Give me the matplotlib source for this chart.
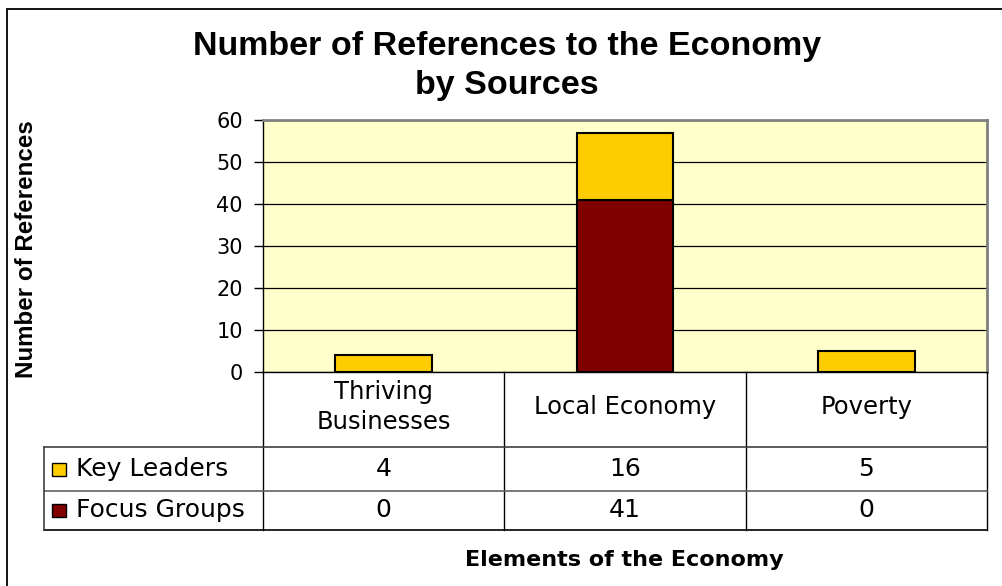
import numpy as np
import matplotlib
matplotlib.use('Agg')
import matplotlib.pyplot as plt
from matplotlib.lines import Line2D
from matplotlib.patches import Rectangle
from matplotlib.transforms import blended_transform_factory

categories = ['Thriving\nBusinesses', 'Local Economy', 'Poverty']
series_names = ['Key Leaders', 'Focus Groups']
key_leaders = [4, 16, 5]
focus_groups = [0, 41, 0]
y_ticks = [0, 10, 20, 30, 40, 50, 60]

KEY_COLOR = '#FFCC00'
FOCUS_COLOR = '#800000'

W, H = 1002, 586


def fx(px):
    return px / W


def fy(py):
    return 1 - py / H


fig = plt.figure(figsize=(W / 100, H / 100), dpi=100)
fig.patch.set_facecolor('white')

# outer chart frame (right/bottom edges fall off the picture)
fig.patches.append(Rectangle((fx(7), fy(620)), fx(1030) - fx(7), fy(9) - fy(620),
                             transform=fig.transFigure, fill=False,
                             edgecolor='black', linewidth=1.3))

ax = fig.add_axes([fx(263), fy(372), fx(987) - fx(263), fy(120) - fy(372)])
ax.set_facecolor('#FFFFCC')

x = np.arange(len(categories))
ax.bar(x, focus_groups, width=0.4, color=FOCUS_COLOR, edgecolor='black', linewidth=1.5, zorder=3)
ax.bar(x, key_leaders, width=0.4, bottom=focus_groups, color=KEY_COLOR,
       edgecolor='black', linewidth=1.5, zorder=3)

ax.set_xlim(-0.5, len(categories) - 0.5)
ax.set_ylim(0, 60)
ax.set_yticks(y_ticks)
ax.set_xticks([])
ax.yaxis.grid(True, color='black', linewidth=0.9, zorder=0)
ax.set_axisbelow(True)
ax.tick_params(axis='y', length=6.5, width=1, pad=8, labelsize=15, colors='black')
for lab in ax.get_yticklabels():
    lab.set_family('DejaVu Sans')

for side in ['top', 'right']:
    ax.spines[side].set_color('#808080')
    ax.spines[side].set_linewidth(2)
for side in ['left', 'bottom']:
    ax.spines[side].set_color('black')
    ax.spines[side].set_linewidth(1)

# data table under the plot: x in data units, y in figure units
tr = blended_transform_factory(ax.transData, fig.transFigure)
col_edges = np.arange(len(categories) + 1) - 0.5

for ce in col_edges:
    fig.add_artist(Line2D([ce, ce], [fy(372), fy(530)], transform=tr, color='black', linewidth=1))

for py, col in [(447, '#404040'), (491, '#606060'), (530, 'black')]:
    fig.add_artist(Line2D([fx(44), fx(987)], [fy(py), fy(py)], transform=fig.transFigure,
                          color=col, linewidth=1.2))
fig.add_artist(Line2D([fx(44), fx(44)], [fy(447), fy(530)], transform=fig.transFigure,
                      color='#404040', linewidth=1.2))

for xi, cat in zip(x, categories):
    fig.text(xi, fy(407), cat, transform=tr, ha='center', va='center', fontsize=17.5,
             family='DejaVu Sans', linespacing=1.3)

rows = [key_leaders, focus_groups]
row_centers = [469, 510]
colors = [KEY_COLOR, FOCUS_COLOR]
for name, vals, rc, col in zip(series_names, rows, row_centers, colors):
    fig.patches.append(Rectangle((fx(52), fy(rc + 7)), fx(66) - fx(52), fy(rc - 6) - fy(rc + 7),
                                 transform=fig.transFigure, facecolor=col,
                                 edgecolor='black', linewidth=1))
    fig.text(fx(76), fy(rc), name, ha='left', va='center', fontsize=18, family='DejaVu Sans')
    for xi, v in zip(x, vals):
        fig.text(xi, fy(rc), str(v), transform=tr, ha='center', va='center',
                 fontsize=18, family='DejaVu Sans')

fig.text(fx(507), fy(66), 'Number of References to the Economy\nby Sources', ha='center',
         va='center', fontsize=24.5, fontweight='bold', family=['Liberation Sans', 'DejaVu Sans'],
         linespacing=1.35)
fig.text(fx(27), fy(249), 'Number of References', rotation=90, ha='center', va='center',
         fontsize=17.4, fontweight='bold', family=['Liberation Sans', 'DejaVu Sans'])
fig.text(fx(624), fy(560), 'Elements of the Economy', ha='center', va='center',
         fontsize=16, fontweight='bold', family='DejaVu Sans')

fig.savefig('out.png', dpi=100)
